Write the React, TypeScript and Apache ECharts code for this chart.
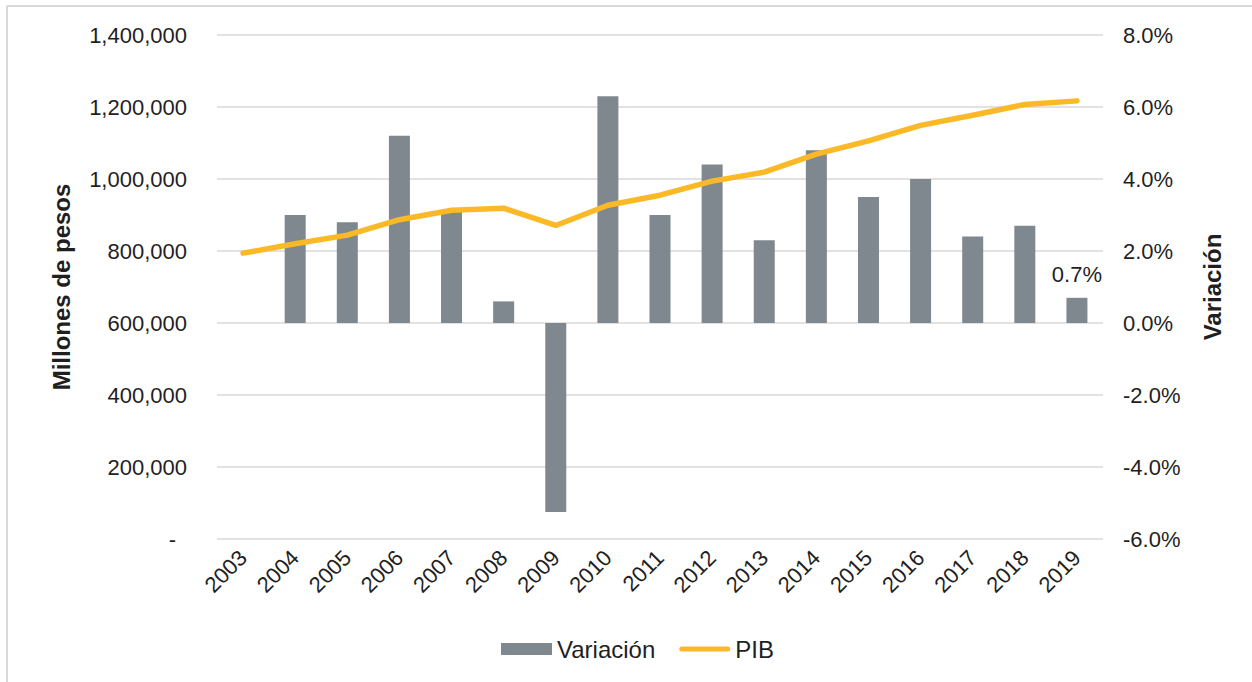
import React, { useEffect, useRef } from "react";
import * as echarts from "echarts";

const years = ["2003","2004","2005","2006","2007","2008","2009","2010","2011","2012","2013","2014","2015","2016","2017","2018","2019"];
// Variación (%) — bars, right axis
const variacion: (number | null)[] = [null, 3.0, 2.8, 5.2, 3.1, 0.6, -5.25, 6.3, 3.0, 4.4, 2.3, 4.8, 3.5, 4.0, 2.4, 2.7, 0.7];
// PIB (millones de pesos) — line, left axis
const pib = [794000, 820000, 844000, 887000, 913000, 919000, 871000, 927000, 955000, 994000, 1019000, 1069000, 1106000, 1149000, 1177000, 1207000, 1217000];
const leftTicks = { min: 0, max: 1400000, interval: 200000 };
const rightTicks = { min: -6, max: 8, interval: 2 };

const FONT = "'Liberation Sans', Arial, sans-serif";
const TEXT = "#1f1f1f";
const LINE_ICON = "path://M2.5,0 H48.5 A2.5,2.5 0 0 1 48.5,5 H2.5 A2.5,2.5 0 0 1 2.5,0 Z";

export default function App() {
  const ref = useRef<HTMLDivElement>(null);
  useEffect(() => {
    if (!ref.current) return;
    const chart = echarts.init(ref.current, null, { renderer: "svg" });
    const lastIdx = variacion.length - 1;
    chart.setOption({
      animation: false,
      backgroundColor: "#ffffff",
      textStyle: { fontFamily: FONT, color: TEXT },
      grid: { left: 217, right: 149, top: 35, bottom: 143, containLabel: false },
      graphic: [
        { type: "line", shape: { x1: 7, y1: 6, x2: 1252, y2: 6 }, style: { stroke: "#d9d9d9", lineWidth: 2 } },
        { type: "line", shape: { x1: 7, y1: 6, x2: 7, y2: 682 }, style: { stroke: "#d9d9d9", lineWidth: 2 } },
      ],
      legend: {
        left: 496,
        top: 632,
        itemWidth: 51,
        itemHeight: 12,
        itemGap: 24,
        textStyle: { fontFamily: FONT, fontSize: 24, color: TEXT },
        data: [
          { name: "Variación", icon: "rect" },
          { name: "PIB", icon: LINE_ICON },
        ],
      },
      xAxis: {
        type: "category",
        data: years,
        axisLine: { show: false },
        axisTick: { show: false },
        axisLabel: { rotate: 45, margin: 15, fontSize: 22, color: TEXT, fontFamily: FONT, interval: 0 },
      },
      yAxis: [
        {
          type: "value",
          min: leftTicks.min,
          max: leftTicks.max,
          interval: leftTicks.interval,
          name: "Millones de pesos",
          nameLocation: "middle",
          nameRotate: 90,
          nameGap: 144,
          nameTextStyle: { fontSize: 24, fontWeight: "bold", color: TEXT, fontFamily: FONT },
          axisLine: { show: false },
          axisTick: { show: false },
          splitLine: { show: true, lineStyle: { color: "#d9d9d9", width: 1.5 } },
          axisLabel: {
            margin: 30,
            fontSize: 22,
            color: TEXT,
            fontFamily: FONT,
            formatter: (v: number) => (v === 0 ? "{d|-}" : v.toLocaleString("en-US")),
            rich: { d: { fontSize: 22, color: TEXT, fontFamily: FONT, padding: [0, 11, 0, 0] } },
          },
        },
        {
          type: "value",
          min: rightTicks.min,
          max: rightTicks.max,
          interval: rightTicks.interval,
          name: "Variación",
          nameLocation: "middle",
          nameRotate: 90,
          nameGap: 97,
          nameTextStyle: { fontSize: 24, fontWeight: "bold", color: TEXT, fontFamily: FONT },
          axisLine: { show: false },
          axisTick: { show: false },
          splitLine: { show: false },
          axisLabel: {
            margin: 20,
            fontSize: 22,
            color: TEXT,
            fontFamily: FONT,
            formatter: (v: number) => v.toFixed(1) + "%",
          },
        },
      ],
      series: [
        {
          name: "Variación",
          type: "bar",
          yAxisIndex: 1,
          barWidth: 21,
          itemStyle: { color: "#7f888e" },
          data: variacion.map((v, i) =>
            i === lastIdx
              ? {
                  value: v,
                  label: {
                    show: true,
                    position: "top",
                    distance: 12,
                    fontSize: 22,
                    color: TEXT,
                    fontFamily: FONT,
                    formatter: (p: any) => Number(p.value).toFixed(1) + "%",
                  },
                }
              : v
          ),
        },
        {
          name: "PIB",
          type: "line",
          yAxisIndex: 0,
          symbol: "none",
          z: 5,
          lineStyle: { color: "#fbb927", width: 5.5, cap: "round", join: "round" },
          itemStyle: { color: "#fbb927" },
          data: pib,
        },
      ],
    });
    return () => chart.dispose();
  }, []);
  return <div ref={ref} style={{ position: "fixed", left: 0, top: 0, width: 1252, height: 682 }} />;
}
